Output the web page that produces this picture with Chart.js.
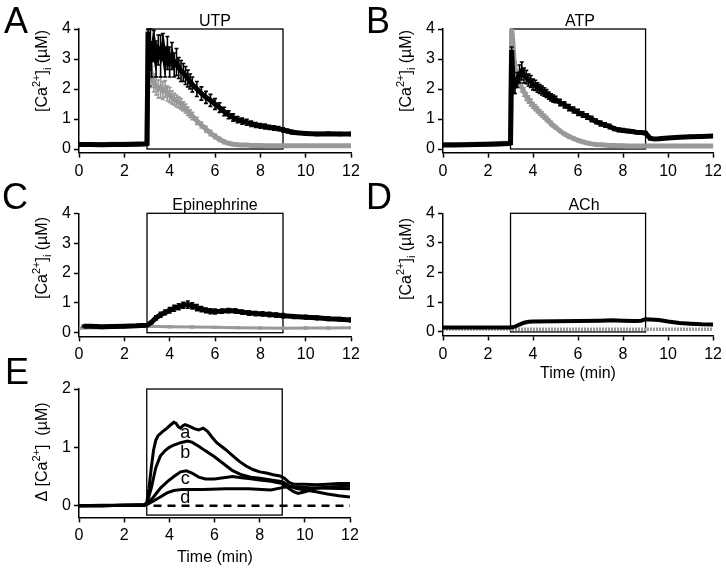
<!DOCTYPE html>
<html><head><meta charset="utf-8">
<script src="https://cdn.jsdelivr.net/npm/chart.js@4.4.1/dist/chart.umd.min.js"></script>
<style>
html,body{margin:0;padding:0;background:#fff;}
#wrap{position:relative;width:726px;height:569px;overflow:hidden;background:#fff;}
canvas{position:absolute;left:0;top:0;}
</style></head><body><div id="wrap">
<canvas id="cA" width="726" height="569"></canvas>
<canvas id="cB" width="726" height="569"></canvas>
<canvas id="cC" width="726" height="569"></canvas>
<canvas id="cD" width="726" height="569"></canvas>
<canvas id="cE" width="726" height="569"></canvas>
</div>
<script>
// ---------------- DATA ----------------
const timeTicks = [0, 2, 4, 6, 8, 10, 12];
const caTicks = [0, 1, 2, 3, 4];
const deltaTicks = [0, 1, 2];
const stimWindow = [3, 9];

// Panels A & B share a time grid (min)
const tAB = [0,0.5,1,1.5,2,2.5,2.9,3.0,3.05,3.1,3.15,3.2,3.3,3.4,3.5,3.6,3.7,3.8,3.9,4.0,4.1,4.2,4.3,4.4,4.5,4.6,4.7,4.8,4.9,5.0,5.2,5.4,5.6,5.8,6.0,6.2,6.4,6.6,6.8,7.0,7.2,7.4,7.6,7.8,8.0,8.2,8.4,8.6,8.8,9.0,9.2,9.4,9.6,10,10.5,11,11.5,12];

const utpBlack = [0.15,0.15,0.14,0.15,0.15,0.16,0.17,0.18,3.9,2.6,3.6,2.9,3.5,3.0,3.3,3.1,3.4,2.9,3.2,2.9,3.1,2.8,2.9,2.7,2.6,2.55,2.45,2.35,2.25,2.15,2.0,1.85,1.72,1.62,1.5,1.38,1.25,1.14,1.05,0.98,0.93,0.89,0.84,0.8,0.77,0.75,0.72,0.7,0.68,0.64,0.6,0.56,0.54,0.52,0.5,0.51,0.5,0.5];
const utpBlackErr = [0.03,0.03,0.03,0.03,0.03,0.03,0.03,0.03,0.1,0.5,0.4,0.5,0.45,0.6,0.5,0.7,0.45,0.5,0.55,0.5,0.45,0.4,0.45,0.35,0.35,0.3,0.3,0.28,0.25,0.25,0.25,0.22,0.2,0.2,0.18,0.16,0.14,0.13,0.12,0.1,0.1,0.1,0.09,0.08,0.08,0.08,0.07,0.07,0.07,0.07,0.06,0.06,0.05,0.05,0.05,0.05,0.05,0.05];
const utpGrey = [0.15,0.15,0.15,0.16,0.16,0.17,0.18,0.2,4.0,3.2,2.7,2.4,2.2,2.1,2.0,2.05,1.95,2.0,1.85,1.8,1.72,1.66,1.6,1.55,1.5,1.42,1.35,1.26,1.18,1.1,0.94,0.8,0.66,0.53,0.42,0.32,0.24,0.19,0.16,0.14,0.13,0.13,0.12,0.12,0.12,0.11,0.11,0.11,0.11,0.11,0.11,0.11,0.11,0.11,0.11,0.11,0.11,0.11];
const utpGreyErr = [0.03,0.03,0.03,0.03,0.03,0.03,0.03,0.03,0.1,0.35,0.35,0.35,0.3,0.3,0.3,0.35,0.3,0.28,0.25,0.25,0.22,0.2,0.2,0.18,0.18,0.15,0.15,0.14,0.13,0.12,0.12,0.1,0.1,0.09,0.08,0.07,0.06,0.05,0.04,0.04,0.03,0.03,0.03,0.03,0.03,0.03,0.03,0.03,0.03,0.03,0.03,0.03,0.03,0.03,0.03,0.03,0.03,0.03];

const atpBlack = [0.13,0.13,0.14,0.15,0.16,0.17,0.18,0.2,3.3,2.4,2.1,2.1,2.3,2.5,2.6,2.45,2.4,2.3,2.25,2.15,2.12,2.05,2.0,1.95,1.9,1.85,1.78,1.72,1.68,1.65,1.55,1.47,1.38,1.3,1.22,1.15,1.08,1.0,0.92,0.85,0.8,0.75,0.68,0.64,0.62,0.6,0.58,0.56,0.55,0.53,0.36,0.33,0.34,0.37,0.39,0.41,0.42,0.43];
const atpBlackErr = [0.03,0.03,0.03,0.03,0.03,0.03,0.03,0.03,0.1,0.25,0.25,0.25,0.25,0.3,0.3,0.25,0.22,0.2,0.2,0.18,0.17,0.16,0.15,0.15,0.14,0.13,0.12,0.12,0.12,0.11,0.11,0.1,0.1,0.1,0.1,0.09,0.09,0.09,0.08,0.08,0.07,0.07,0.06,0.06,0.06,0.05,0.05,0.05,0.05,0.05,0.05,0.04,0.04,0.04,0.04,0.04,0.04,0.04];
const atpGrey = [0.15,0.15,0.15,0.16,0.16,0.18,0.2,0.22,4.0,3.6,3.0,2.7,2.4,2.2,2.05,1.9,1.75,1.65,1.55,1.45,1.38,1.3,1.22,1.15,1.08,1.0,0.93,0.85,0.78,0.72,0.6,0.5,0.42,0.35,0.29,0.24,0.2,0.17,0.15,0.14,0.13,0.12,0.12,0.11,0.11,0.1,0.1,0.1,0.1,0.1,0.1,0.1,0.1,0.1,0.1,0.1,0.1,0.1];
const atpGreyErr = [0.03,0.03,0.03,0.03,0.03,0.03,0.03,0.03,0.1,0.2,0.2,0.18,0.16,0.15,0.15,0.14,0.13,0.12,0.12,0.1,0.1,0.1,0.09,0.09,0.08,0.08,0.07,0.07,0.06,0.06,0.05,0.05,0.05,0.05,0.05,0.05,0.04,0.04,0.04,0.04,0.04,0.04,0.04,0.04,0.04,0.04,0.04,0.04,0.04,0.04,0.03,0.03,0.03,0.03,0.03,0.03,0.03,0.03];

// Panel C
const tEpiBlack = [0.2,0.5,1,1.5,2,2.5,3.0,3.2,3.4,3.6,3.8,4.0,4.2,4.4,4.6,4.8,5.0,5.2,5.4,5.6,5.8,6.0,6.3,6.6,6.9,7.2,7.5,7.8,8.1,8.4,8.7,9.0,9.5,10,10.5,11,11.5,12];
const epiBlack = [0.22,0.22,0.2,0.21,0.22,0.23,0.25,0.35,0.5,0.6,0.68,0.75,0.82,0.87,0.92,0.94,0.9,0.84,0.79,0.75,0.72,0.71,0.72,0.74,0.73,0.69,0.66,0.64,0.63,0.61,0.59,0.57,0.54,0.52,0.5,0.47,0.45,0.43];
const epiBlackErr = [0.03,0.03,0.03,0.03,0.03,0.03,0.03,0.05,0.07,0.08,0.08,0.09,0.1,0.1,0.1,0.12,0.1,0.1,0.09,0.08,0.08,0.08,0.07,0.07,0.07,0.07,0.07,0.07,0.07,0.07,0.07,0.07,0.06,0.06,0.06,0.06,0.06,0.06];
const tEpiGrey = [0,1,2,3,4,5,6,7,8,9,10,11,12];
const epiGrey = [0.15,0.17,0.19,0.22,0.2,0.19,0.18,0.17,0.16,0.15,0.16,0.16,0.17];
const epiGreyErr = [0.03,0.03,0.03,0.03,0.03,0.03,0.03,0.03,0.03,0.03,0.03,0.03,0.03];

// Panel D
const tAchBlack = [0,1,2,3.0,3.2,3.4,3.6,3.8,4.0,5,6,7,7.5,8,8.5,8.8,9.0,9.2,9.6,10,10.5,11,11.5,12];
const achBlack = [0.15,0.15,0.15,0.15,0.18,0.25,0.31,0.34,0.35,0.36,0.37,0.38,0.39,0.38,0.37,0.38,0.43,0.42,0.4,0.35,0.3,0.28,0.26,0.25];
const tAchGrey = [0,2,4,6,8,10,12];
const achGrey = [0.1,0.1,0.09,0.09,0.09,0.09,0.09];

// Panel E
const tA_ = [0,1,2,2.9,3.0,3.1,3.2,3.3,3.4,3.5,3.7,3.9,4.1,4.2,4.3,4.4,4.5,4.6,4.7,4.9,5.1,5.3,5.5,5.7,5.9,6.1,6.3,6.5,6.8,7.1,7.4,7.7,8.0,8.3,8.6,8.9,9.1,9.3,9.5,10,10.5,11,11.5,12];
const curveA = [0,0.01,0.01,0.02,0.05,0.3,0.65,0.95,1.12,1.2,1.27,1.33,1.4,1.43,1.41,1.35,1.33,1.37,1.39,1.36,1.32,1.3,1.33,1.27,1.17,1.08,1.02,0.96,0.86,0.76,0.68,0.62,0.58,0.56,0.53,0.51,0.47,0.4,0.37,0.37,0.36,0.37,0.38,0.38];
const tB_ = [0,1,2,2.9,3.0,3.2,3.4,3.6,3.8,4.0,4.2,4.5,4.8,5.0,5.3,5.6,6.0,6.4,6.8,7.2,7.6,8.0,8.5,9.0,9.3,9.6,10,10.5,11,11.5,12];
const curveB = [0,0,0.01,0.01,0.03,0.3,0.65,0.85,0.94,1.0,1.04,1.08,1.11,1.09,1.02,0.94,0.84,0.72,0.6,0.53,0.49,0.47,0.44,0.41,0.34,0.3,0.27,0.24,0.2,0.17,0.15];
const tC_ = [0,1,2,2.9,3.0,3.3,3.6,3.9,4.2,4.5,4.75,5.0,5.3,5.6,6.0,6.4,6.8,7.2,7.6,8.0,8.5,9.0,9.2,9.5,9.7,10,10.5,11,11.5,12];
const curveC = [0,0,0.01,0.01,0.03,0.15,0.3,0.41,0.5,0.58,0.6,0.56,0.49,0.46,0.46,0.48,0.5,0.48,0.46,0.44,0.42,0.38,0.32,0.24,0.21,0.24,0.3,0.32,0.33,0.34];
const tD_ = [0,1,2,2.9,3.0,3.3,3.6,3.9,4.2,4.6,5.5,6.5,7.5,8.5,9.0,9.3,9.7,10.2,11,12];
const curveD = [0,0,0.01,0.01,0.02,0.08,0.15,0.22,0.26,0.28,0.28,0.29,0.29,0.27,0.31,0.33,0.32,0.31,0.3,0.29];
const tZero = [3.3, 12];
const zeroLine = [0, 0];
const curveNames = ['a', 'b', 'c', 'd'];

// ---------------- STYLE / HELPERS ----------------
const FONT = '"Liberation Sans", Arial, Helvetica, sans-serif';
const BLACK = '#000000';
const GREY = '#999999';
const YW = 50, XH = 40, W = 726, H = 569;

function pts(t, v) { return t.map((x, i) => ({ x: x, y: v[i] })); }

function drawRich(ctx, parts, x, y) {
  ctx.save();
  ctx.translate(x, y);
  ctx.rotate(-Math.PI / 2);
  let w = 0;
  parts.forEach(p => { ctx.font = p.size + 'px ' + FONT; w += ctx.measureText(p.t).width; });
  let cx = -w / 2;
  ctx.textBaseline = 'alphabetic';
  ctx.textAlign = 'left';
  ctx.fillStyle = '#000';
  parts.forEach(p => { ctx.font = p.size + 'px ' + FONT; ctx.fillText(p.t, cx, p.dy); cx += ctx.measureText(p.t).width; });
  ctx.restore();
}

const caTitle = [
  { t: '[Ca', size: 16, dy: 0 }, { t: '2+', size: 11, dy: -7 }, { t: ']', size: 16, dy: 0 },
  { t: 'i', size: 11, dy: 4 }, { t: ' (\u00b5M)', size: 16, dy: 0 }
];
const deltaTitle = [
  { t: '\u0394 [Ca', size: 16, dy: 0 }, { t: '2+', size: 11, dy: -7 }, { t: ']', size: 16, dy: 0 },
  { t: '  (\u00b5M)', size: 16, dy: 0 }
];

const panelPlugin = {
  id: 'panel',
  beforeDatasetsDraw(chart, args, o) {
    const ctx = chart.ctx, xs = chart.scales.x, ys = chart.scales.y;
    if (o.box) {
      ctx.save();
      ctx.strokeStyle = '#000';
      ctx.lineWidth = 1.3;
      const x0 = xs.getPixelForValue(stimWindow[0]), x1 = xs.getPixelForValue(stimWindow[1]);
      const y0 = ys.getPixelForValue(o.box[0]), y1 = ys.getPixelForValue(o.box[1]);
      ctx.strokeRect(x0, y1, x1 - x0, y0 - y1);
      ctx.restore();
    }
  },
  afterDatasetDraw(chart, args) {
    const ds = chart.data.datasets[args.index];
    if (!ds.errors) return;
    const ctx = chart.ctx, ys = chart.scales.y, ca = chart.chartArea;
    ctx.save();
    ctx.beginPath();
    ctx.rect(ca.left, ca.top - 1, ca.right - ca.left, ca.bottom - ca.top + 1);
    ctx.clip();
    ctx.strokeStyle = ds.borderColor;
    ctx.lineWidth = 1.6;
    args.meta.data.forEach((pt, i) => {
      const e = ds.errors[i];
      const v = ds.data[i].y;
      const y1 = ys.getPixelForValue(v + e), y2 = ys.getPixelForValue(v - e);
      ctx.beginPath();
      ctx.moveTo(pt.x, y1); ctx.lineTo(pt.x, y2);
      ctx.moveTo(pt.x - 2, y1); ctx.lineTo(pt.x + 2, y1);
      ctx.moveTo(pt.x - 2, y2); ctx.lineTo(pt.x + 2, y2);
      ctx.stroke();
    });
    ctx.restore();
  },
  afterDraw(chart, args, o) {
    const ctx = chart.ctx;
    ctx.save();
    ctx.fillStyle = '#000';
    ctx.textBaseline = 'alphabetic';
    if (o.letter) {
      ctx.font = '36px ' + FONT;
      ctx.textAlign = 'left';
      ctx.fillText(o.letter, o.letterPos[0], o.letterPos[1]);
    }
    if (o.title) {
      ctx.font = '16px ' + FONT;
      ctx.textAlign = 'center';
      ctx.fillText(o.title, o.titlePos[0], o.titlePos[1]);
    }
    if (o.xTitle) {
      ctx.font = '16px ' + FONT;
      ctx.textAlign = 'center';
      ctx.fillText(o.xTitle, o.xTitlePos[0], o.xTitlePos[1]);
    }
    if (o.labels) {
      const xs = chart.scales.x, ys = chart.scales.y;
      ctx.font = '18px ' + FONT;
      ctx.textAlign = 'center';
      ctx.textBaseline = 'middle';
      o.labels.forEach((lab, i) => {
        ctx.fillText(lab, xs.getPixelForValue(o.labelPos[i][0]), ys.getPixelForValue(o.labelPos[i][1]));
      });
    }
    ctx.restore();
    if (o.yTitle) drawRich(ctx, o.yTitle, o.yTitlePos[0], o.yTitlePos[1]);
  }
};

function makeChart(id, area, yRange, yTicks, datasets, panelOpts) {
  const [L, T, R, B] = area;
  return new Chart(document.getElementById(id), {
    type: 'line',
    data: { datasets: datasets },
    plugins: [panelPlugin],
    options: {
      responsive: false,
      animation: false,
      events: [],
      layout: { padding: { left: L - YW, top: T, right: W - R, bottom: H - B - XH } },
      elements: { point: { radius: 0 }, line: { tension: 0 } },
      plugins: { legend: { display: false }, tooltip: { enabled: false }, panel: panelOpts },
      scales: {
        x: {
          type: 'linear', min: 0, max: 12,
          afterBuildTicks: s => { s.ticks = timeTicks.map(v => ({ value: v })); },
          afterFit: s => { s.height = XH; },
          grid: { drawOnChartArea: false, drawTicks: true, tickLength: 5, tickWidth: 1.5, tickColor: '#000' },
          border: { display: true, color: '#000', width: 1.5 },
          ticks: { color: '#000', font: { family: FONT, size: 16 }, padding: 4, maxRotation: 0, autoSkip: false }
        },
        y: {
          type: 'linear', min: yRange[0], max: yRange[1],
          afterBuildTicks: s => { s.ticks = yTicks.map(v => ({ value: v })); },
          afterFit: s => { s.width = YW; },
          grid: { drawOnChartArea: false, drawTicks: true, tickLength: 5, tickWidth: 1.5, tickColor: '#000' },
          border: { display: true, color: '#000', width: 1.5 },
          ticks: { color: '#000', font: { family: FONT, size: 16 }, padding: 3 }
        }
      }
    }
  });
}

function errSet(t, v, e, color, w) {
  return { data: pts(t, v), errors: e, borderColor: color, borderWidth: w || 5, fill: false };
}

// A
makeChart('cA', [79, 29, 351, 152.6], [-0.12, 4], caTicks, [
  errSet(tAB, utpBlack, utpBlackErr, BLACK),
  errSet(tAB, utpGrey, utpGreyErr, GREY)
], { letter: 'A', letterPos: [4, 33], title: 'UTP', titlePos: [215, 26], yTitle: caTitle, yTitlePos: [47, 71], box: [0, 4] });

// B
makeChart('cB', [443, 29, 715, 152.6], [-0.12, 4], caTicks, [
  errSet(tAB, atpBlack, atpBlackErr, BLACK),
  errSet(tAB, atpGrey, atpGreyErr, GREY)
], { letter: 'B', letterPos: [366, 33], title: 'ATP', titlePos: [580, 26], yTitle: caTitle, yTitlePos: [411, 71], box: [0, 4] });

// C
makeChart('cC', [79, 213.3, 351, 336.3], [-0.12, 4], caTicks, [
  errSet(tEpiBlack, epiBlack, epiBlackErr, BLACK),
  errSet(tEpiGrey, epiGrey, epiGreyErr, GREY, 3)
], { letter: 'C', letterPos: [2, 209], title: 'Epinephrine', titlePos: [215, 210], yTitle: caTitle, yTitlePos: [47, 258], box: [0, 4] });

// D
makeChart('cD', [443, 213.3, 715, 335.5], [-0.12, 4], caTicks, [
  { data: pts(tAchBlack, achBlack), borderColor: BLACK, borderWidth: 4, fill: false },
  { data: pts(tAchGrey, achGrey), borderColor: GREY, borderWidth: 3.5, borderDash: [2, 1], fill: false }
], { letter: 'D', letterPos: [366, 209], title: 'ACh', titlePos: [584, 210], yTitle: caTitle, yTitlePos: [411, 259], box: [0, 4], xTitle: 'Time (min)', xTitlePos: [578, 378] });

// E
makeChart('cE', [79, 389, 350, 517.4], [-0.2, 2], deltaTicks, [
  { data: pts(tA_, curveA), borderColor: BLACK, borderWidth: 3, fill: false },
  { data: pts(tB_, curveB), borderColor: BLACK, borderWidth: 3, fill: false },
  { data: pts(tC_, curveC), borderColor: BLACK, borderWidth: 3, fill: false },
  { data: pts(tD_, curveD), borderColor: BLACK, borderWidth: 3, fill: false },
  { data: pts(tZero, zeroLine), borderColor: BLACK, borderWidth: 2.5, borderDash: [8, 6], fill: false }
], { letter: 'E', letterPos: [5, 384], yTitle: deltaTitle, yTitlePos: [47, 452], box: [-0.16, 2], xTitle: 'Time (min)', xTitlePos: [215, 562],
  labels: curveNames, labelPos: [[4.7, 1.25], [4.7, 0.9], [4.7, 0.46], [4.7, 0.13]] });
</script></body></html>
